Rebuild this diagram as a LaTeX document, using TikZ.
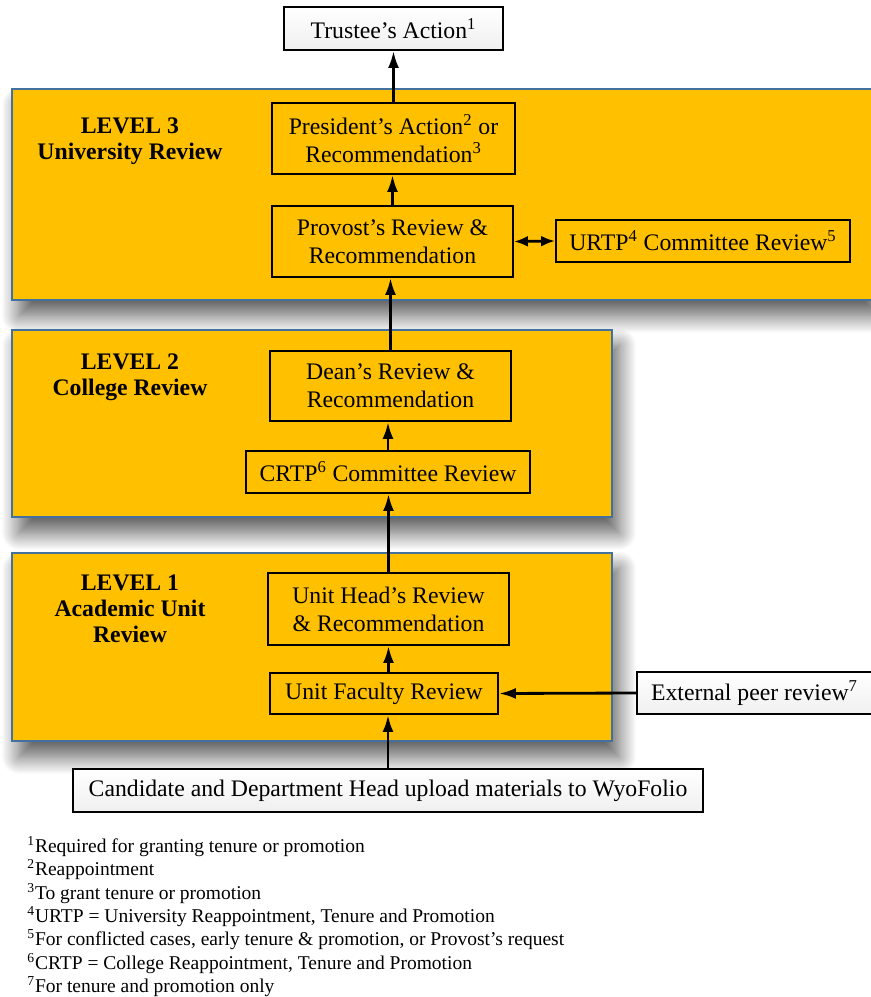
\documentclass[tikz,border=0pt]{standalone}
\usepackage{fontspec}
\setmainfont{Liberation Serif}
\usetikzlibrary{arrows.meta,shadows.blur}

\definecolor{lvlfill}{HTML}{FFC000}
\definecolor{lvlline}{HTML}{41719C}

\tikzset{
  level/.style={draw=lvlline, line width=0.8pt, fill=lvlfill, inner sep=0pt,
    blur shadow={shadow xshift=4pt, shadow yshift=-9pt, shadow blur radius=10pt,
      shadow blur steps=20, shadow opacity=65}},
  stepbox/.style={draw, line width=1.1pt, fill=lvlfill, align=center, inner sep=0pt,
    font=\fontsize{13.5}{15.8}\selectfont},
  outbox/.style={stepbox, top color=white, bottom color=gray!12},
  lvltext/.style={font=\bfseries\fontsize{13.5}{14.8}\selectfont, align=center},
  flow/.style={line width=1.6pt, -{Latex[length=3.4mm,width=2.2mm]}},
  both/.style={line width=1.6pt, {Latex[length=2.8mm,width=2.2mm]}-{Latex[length=2.8mm,width=2.2mm]}},
}

\begin{document}
\begin{tikzpicture}[x=0.02cm, y=-0.02cm]
    \useasboundingbox (0,0) rectangle (870,997);
    % Levels
    \node[level, minimum width=17.2cm, minimum height=4.22cm] (lvl3) at (442,194.5) {};
    \node[level, minimum width=12cm, minimum height=3.74cm] (lvl2) at (312,423.5) {};
    \node[level, minimum width=12cm, minimum height=3.76cm] (lvl1) at (312,647) {};
    \node[lvltext] (lab3) at (130,141) {LEVEL 3\\University Review};
    \node[lvltext] (lab2) at (130,377) {LEVEL 2\\College Review};
    \node[lvltext] (lab1) at (130,609) {LEVEL 1\\Academic Unit\\Review};
    % Level 3 steps
    \node[outbox, minimum width=4.38cm, minimum height=0.86cm] (trustee) at (393.5,28.5) {Trustee's Action\textsuperscript{1}};
    \node[stepbox, minimum width=4.86cm, minimum height=1.42cm] (pres) at (393.5,138.5) {President's Action\textsuperscript{2} or\\Recommendation\textsuperscript{3}};
    \node[stepbox, minimum width=4.82cm, minimum height=1.42cm] (prov) at (392.5,241.5) {Provost's Review \&\\Recommendation};
    \node[stepbox, minimum width=5.88cm, minimum height=0.84cm] (urtp) at (703,241) {URTP\textsuperscript{4} Committee Review\textsuperscript{5}};
    % Level 2 steps
    \node[stepbox, minimum width=4.82cm, minimum height=1.4cm] (dean) at (390.5,386) {Dean's Review \&\\Recommendation};
    \node[stepbox, minimum width=5.68cm, minimum height=0.84cm] (crtp) at (388,472) {CRTP\textsuperscript{6} Committee Review};
    % Level 1 steps
    \node[stepbox, minimum width=4.82cm, minimum height=1.44cm] (head) at (388.5,609) {Unit Head's Review\\\& Recommendation};
    \node[stepbox, minimum width=4.56cm, minimum height=0.82cm] (fac) at (384,693.5) {Unit Faculty Review};
    \node[outbox, minimum width=4.7cm, minimum height=0.84cm] (ext) at (754.5,693) {External peer review\textsuperscript{7}};
    \node[outbox, minimum width=12.6cm, minimum height=0.86cm] (cand) at (388,790.5) {Candidate and Department Head upload materials to WyoFolio};
    % Arrows
    \draw[flow] (pres.north) -- (trustee.south);
    \draw[flow] (prov.north) -- (prov.north |- pres.south);
    \draw[both] (prov.east) -- (urtp.west);
    \draw[flow] (dean.north) -- (dean.north |- prov.south);
    \draw[flow] (crtp.north) -- (crtp.north |- dean.south);
    \draw[flow] (head.north) -- (head.north |- crtp.south);
    \draw[flow] (head.south |- fac.north) -- (head.south);
    \draw[flow] (cand.north) -- (cand.north |- fac.south);
    \draw[flow] (ext.west) -- (fac.east);
    % Footnotes
    \node[anchor=north west, align=left, inner sep=0pt, font=\fontsize{11.1}{13.3}\selectfont] (notes) at (27,836) {%
      \textsuperscript{1}Required for granting tenure or promotion\\
      \textsuperscript{2}Reappointment\\
      \textsuperscript{3}To grant tenure or promotion\\
      \textsuperscript{4}URTP = University Reappointment, Tenure and Promotion\\
      \textsuperscript{5}For conflicted cases, early tenure \& promotion, or Provost's request\\
      \textsuperscript{6}CRTP = College Reappointment, Tenure and Promotion\\
      \textsuperscript{7}For tenure and promotion only};
\end{tikzpicture}
\end{document}
